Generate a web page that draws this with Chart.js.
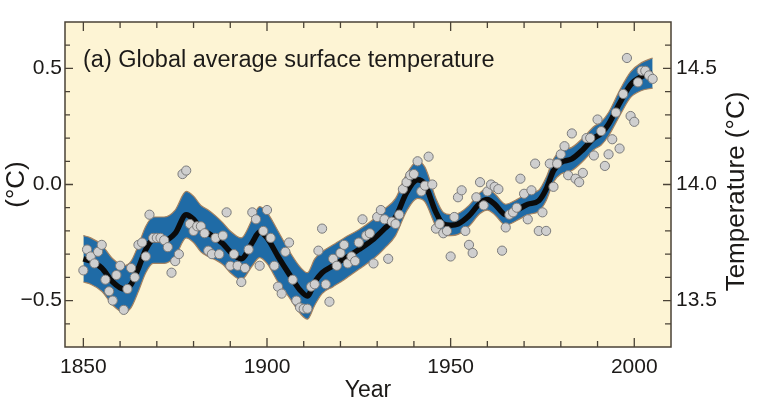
<!DOCTYPE html>
<html>
<head>
<meta charset="utf-8">
<script src="https://cdn.jsdelivr.net/npm/chart.js@4.4.0/dist/chart.umd.min.js"></script>
<style>
  html, body { margin: 0; padding: 0; background: #fff; }
</style>
</head>
<body>
<canvas id="tempChart" width="762" height="413"></canvas>
<script>
// Annual global mean anomalies (°C), one value per year from firstYear
const firstYear = 1850;
const annualAnomaly = [
  -0.37, -0.28, -0.31, -0.34, -0.29, -0.26, -0.41, -0.46, -0.50, -0.39,
  -0.35, -0.54, -0.45, -0.36, -0.40, -0.26, -0.25, -0.31, -0.13, -0.23,
  -0.23, -0.23, -0.24, -0.27, -0.38, -0.33, -0.30, 0.045, 0.06, -0.17,
  -0.20, -0.18, -0.18, -0.21, -0.285, -0.30, -0.23, -0.30, -0.22, -0.12,
  -0.35, -0.30, -0.35, -0.42, -0.36, -0.28, -0.12, -0.15, -0.35, -0.20,
  -0.11, -0.23, -0.35, -0.44, -0.47, -0.29, -0.25, -0.41, -0.50, -0.53,
  -0.535, -0.535, -0.44, -0.43, -0.285, -0.19, -0.43, -0.505, -0.32, -0.35,
  -0.295, -0.26, -0.34, -0.31, -0.33, -0.25, -0.15, -0.22, -0.21, -0.34,
  -0.14, -0.11, -0.15, -0.32, -0.16, -0.17, -0.13, -0.02, 0.01, 0.04,
  0.045, 0.10, -0.03, -0.005, 0.12, 0.0, -0.19, -0.17, -0.21, -0.20,
  -0.31, -0.14, -0.055, -0.025, -0.20, -0.26, -0.295, -0.055, 0.01, -0.09,
  -0.03, 0.0, -0.01, -0.02, -0.285, -0.185, -0.13, -0.12, -0.10, 0.025,
  -0.04, -0.15, -0.025, 0.09, -0.20, -0.12, -0.20, 0.09, -0.01, 0.09,
  0.13, 0.165, 0.04, 0.22, 0.025, 0.01, 0.05, 0.20, 0.20, 0.125,
  0.28, 0.23, 0.08, 0.13, 0.195, 0.31, 0.155, 0.39, 0.545, 0.295,
  0.27, 0.44, 0.49, 0.49, 0.47, 0.455
];

// Smoothed decadal curve and its uncertainty half-width
const smoothYears = [
  1850, 1852, 1855, 1858, 1861, 1863, 1865, 1867, 1869, 1872, 1875, 1878,
  1880, 1882, 1884, 1886, 1888, 1890, 1893, 1896, 1898, 1900, 1903, 1906,
  1909, 1911, 1913, 1915, 1918, 1921, 1925, 1929, 1932, 1935, 1938, 1941,
  1943, 1946, 1948, 1950, 1952, 1955, 1958, 1960, 1962, 1965, 1968, 1971,
  1974, 1976, 1978, 1980, 1983, 1986, 1989, 1991, 1993, 1996, 1999, 2002, 2005
];
const smoothValues = [
  -0.32, -0.33, -0.36, -0.42, -0.45, -0.43, -0.36, -0.28, -0.24, -0.24, -0.21, -0.13,
  -0.15, -0.19, -0.21, -0.23, -0.255, -0.29, -0.32, -0.25, -0.205, -0.23, -0.31, -0.385,
  -0.455, -0.48, -0.42, -0.38, -0.35, -0.32, -0.28, -0.235, -0.19, -0.14, -0.035, 0.02,
  0.0, -0.12, -0.17, -0.175, -0.17, -0.135, -0.08, -0.065, -0.085, -0.13, -0.11, -0.085,
  -0.07, -0.02, 0.06, 0.095, 0.11, 0.15, 0.20, 0.22, 0.26, 0.35, 0.43, 0.465, 0.48
];
const bandHalfWidth = [
  0.10, 0.10, 0.10, 0.10, 0.10, 0.10, 0.10, 0.10, 0.10, 0.10, 0.10, 0.10,
  0.10, 0.10, 0.10, 0.095, 0.09, 0.09, 0.09, 0.10, 0.11, 0.11, 0.11, 0.10,
  0.10, 0.10, 0.10, 0.09, 0.09, 0.09, 0.085, 0.085, 0.085, 0.08, 0.08, 0.08,
  0.075, 0.06, 0.05, 0.045, 0.045, 0.045, 0.045, 0.045, 0.045, 0.045, 0.045, 0.045,
  0.045, 0.05, 0.05, 0.05, 0.05, 0.05, 0.05, 0.05, 0.05, 0.055, 0.055, 0.06, 0.065
];

// Axis ticks
const xLabelYears = [1850, 1900, 1950, 2000];
const xMinorYears = [1850, 1860, 1870, 1880, 1890, 1900, 1910, 1920, 1930, 1940,
                     1950, 1960, 1970, 1980, 1990, 2000];
const yLabelValues = [-0.5, 0.0, 0.5];
const yMinorValues = [-0.6, -0.5, -0.4, -0.3, -0.2, -0.1, 0.0, 0.1, 0.2, 0.3, 0.4, 0.5, 0.6];
const y2LabelValues = [13.5, 14.0, 14.5];
const y2MinorValues = [13.4, 13.5, 13.6, 13.7, 13.8, 13.9, 14.0, 14.1, 14.2, 14.3, 14.4, 14.5, 14.6];

const panelTitle = '(a) Global average surface temperature';
const rightTitle = 'Temperature (°C)';
const FONT = "'Liberation Sans', Arial, Helvetica, sans-serif";
const TEXT = '#1c1a18';
const FRAME = '#4a4236';

const annualPoints = annualAnomaly.map((v, i) => ({ x: firstYear + i, y: v }));
const smoothPoints = smoothYears.map((yr, i) => ({ x: yr, y: smoothValues[i] }));
const upperPoints = smoothYears.map((yr, i) => ({ x: yr, y: smoothValues[i] + bandHalfWidth[i] }));
const lowerPoints = smoothYears.map((yr, i) => ({ x: yr, y: smoothValues[i] - bandHalfWidth[i] }));

// background, frame, inward ticks, panel title and the right-hand axis title
const panelDecor = {
  id: 'panelDecor',
  beforeDraw(chart) {
    const { ctx, chartArea: a } = chart;
    ctx.save();
    ctx.fillStyle = '#fdf4d4';
    ctx.fillRect(a.left, a.top, a.width, a.height);
    ctx.restore();
  },
  afterDraw(chart) {
    const { ctx, chartArea: a, scales } = chart;
    ctx.save();
    ctx.strokeStyle = FRAME;
    ctx.lineWidth = 1.5;
    ctx.strokeRect(a.left, a.top, a.width, a.height);
    ctx.lineWidth = 1.3;
    ctx.beginPath();
    xMinorYears.forEach(yr => {
      const px = scales.x.getPixelForValue(yr);
      const len = xLabelYears.includes(yr) ? 9 : 6;
      ctx.moveTo(px, a.bottom); ctx.lineTo(px, a.bottom - len);
      ctx.moveTo(px, a.top); ctx.lineTo(px, a.top + len);
    });
    yMinorValues.forEach(v => {
      const py = scales.y.getPixelForValue(v);
      const len = yLabelValues.includes(v) ? 8 : 5;
      ctx.moveTo(a.left, py); ctx.lineTo(a.left + len, py);
    });
    y2MinorValues.forEach(v => {
      const py = scales.y2.getPixelForValue(v);
      const len = y2LabelValues.includes(v) ? 8 : 6;
      ctx.moveTo(a.right, py); ctx.lineTo(a.right - len, py);
    });
    ctx.stroke();

    ctx.fillStyle = TEXT;
    ctx.font = `23.5px ${FONT}`;
    ctx.textBaseline = 'middle';
    ctx.textAlign = 'left';
    ctx.fillText(panelTitle, a.left + 18, a.top + 39);

    // right axis title reads bottom-to-top, like the left one
    ctx.font = `26px ${FONT}`;
    ctx.textAlign = 'center';
    ctx.translate(a.right + 66, (a.top + a.bottom) / 2 + 7);
    ctx.rotate(-Math.PI / 2);
    ctx.fillText(rightTitle, 0, 0);
    ctx.restore();
  }
};

new Chart(document.getElementById('tempChart'), {
  type: 'line',
  data: {
    datasets: [
      {
        label: 'Annual',
        data: annualPoints,
        showLine: false,
        pointRadius: 4.6,
        pointBackgroundColor: '#cfcfcf',
        pointBorderColor: '#7b7b7b',
        pointBorderWidth: 1,
        order: 0
      },
      {
        label: 'Smoothed',
        data: smoothPoints,
        borderColor: '#0b0b0b',
        borderWidth: 5.5,
        pointRadius: 0,
        cubicInterpolationMode: 'monotone',
        fill: false,
        order: 1
      },
      {
        label: 'Upper',
        data: upperPoints,
        borderColor: '#a58261',
        borderWidth: 1.2,
        pointRadius: 0,
        cubicInterpolationMode: 'monotone',
        fill: false,
        order: 2
      },
      {
        label: 'Lower',
        data: lowerPoints,
        borderColor: '#a58261',
        borderWidth: 1.2,
        pointRadius: 0,
        cubicInterpolationMode: 'monotone',
        backgroundColor: '#1f6ba6',
        fill: '-1',
        order: 3
      }
    ]
  },
  options: {
    responsive: false,
    animation: false,
    layout: { padding: { top: 22, left: 0, right: 0, bottom: 0 } },
    plugins: {
      legend: { display: false },
      tooltip: { enabled: false }
    },
    scales: {
      x: {
        type: 'linear',
        min: 1845,
        max: 2010,
        grid: { display: false, drawTicks: false },
        border: { display: false },
        afterBuildTicks: s => { s.ticks = xLabelYears.map(v => ({ value: v })); },
        afterFit: s => { s.height = 66; },
        ticks: {
          callback: v => String(v),
          font: { family: FONT, size: 21 },
          color: TEXT,
          padding: 8,
          maxRotation: 0
        },
        title: {
          display: true,
          text: 'Year',
          font: { family: FONT, size: 23 },
          color: TEXT,
          padding: { top: 0, bottom: 9 }
        }
      },
      y: {
        position: 'left',
        min: -0.7,
        max: 0.7,
        grid: { display: false, drawTicks: false },
        border: { display: false },
        afterBuildTicks: s => { s.ticks = yLabelValues.map(v => ({ value: v })); },
        afterFit: s => { s.width = 65; },
        ticks: {
          callback: v => (v < 0 ? '\u2212' + Math.abs(v).toFixed(1) : v.toFixed(1)),
          font: { family: FONT, size: 21 },
          color: TEXT,
          padding: 3
        },
        title: {
          display: true,
          text: '(°C)',
          font: { family: FONT, size: 26 },
          color: TEXT,
          padding: { top: 1, bottom: 0 }
        }
      },
      y2: {
        position: 'right',
        min: 13.3,
        max: 14.7,
        grid: { display: false, drawTicks: false },
        border: { display: false },
        afterBuildTicks: s => { s.ticks = y2LabelValues.map(v => ({ value: v })); },
        afterFit: s => { s.width = 91; },
        ticks: {
          callback: v => v.toFixed(1),
          font: { family: FONT, size: 21 },
          color: TEXT,
          padding: 5
        }
      }
    }
  },
  plugins: [panelDecor]
});
</script>
</body>
</html>
